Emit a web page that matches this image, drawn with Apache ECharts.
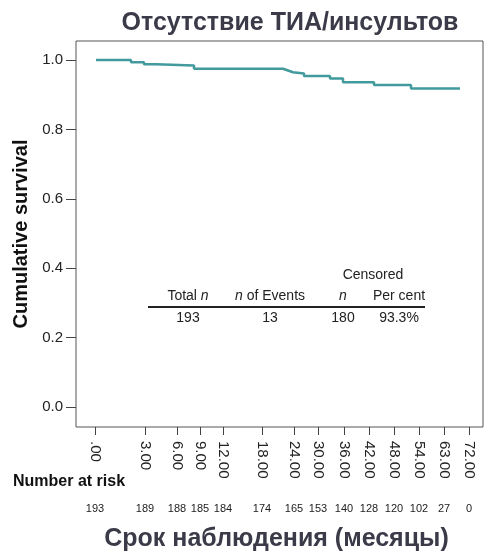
<!DOCTYPE html>
<html>
<head>
<meta charset="utf-8">
<script src="https://cdn.jsdelivr.net/npm/echarts@6/dist/echarts.min.js"></script>
<style>
  html, body { margin: 0; padding: 0; background: #fff; }
  #chart { width: 500px; height: 560px; }
</style>
</head>
<body>
<div id="chart"></div>
<script>
// ось X в исходнике неравномерная: позиции делений заданы в единицах оси
const tickPos = [19, 69, 101, 124, 147, 186, 218, 242, 268, 293, 318, 343, 368, 393]
const tickLabels = ['.00', '3.00', '6.00', '9.00', '12.00', '18.00', '24.00', '30.00', '36.00', '42.00', '48.00', '54.00', '63.00', '72.00']
const atRisk = [193, 189, 188, 185, 184, 174, 165, 153, 140, 128, 120, 102, 27, 0]

// ступени кривой выживаемости (x в тех же единицах оси)
const stepX = [20, 55, 68, 80, 118, 207, 212, 217, 228, 254, 267, 298, 335, 384]
const stepY = [1.0, 0.994, 0.988, 0.984, 0.975, 0.970, 0.965, 0.961, 0.954, 0.947, 0.936, 0.928, 0.918, 0.918]

const yTicks = [0, 0.2, 0.4, 0.6, 0.8, 1.0]

const tableHead = ['Total {i|n}', '{i|n} of Events', '{i|n}', 'Per cent']
const tableRow = ['193', '13', '180', '93.3%']

const textColor = '#222'
const titleColor = '#3a3a48'

let myChart = echarts.init(document.getElementById('chart'))

let colX = [188, 270, 343, 399]
let tableText = []
tableHead.forEach((t, i) => {
  tableText.push({
    type: 'text',
    x: colX[i],
    y: 296,
    style: {
      text: t,
      fill: textColor,
      font: '14px "Liberation Sans", Arial',
      align: 'center',
      verticalAlign: 'middle',
      rich: { i: { fontStyle: 'italic', fontSize: 14, fill: textColor } },
    },
  })
})
tableRow.forEach((t, i) => {
  tableText.push({
    type: 'text',
    x: colX[i],
    y: 318,
    style: {
      text: t,
      fill: textColor,
      font: '14px "Liberation Sans", Arial',
      align: 'center',
      verticalAlign: 'middle',
    },
  })
})

let option = {
  animation: false,
  title: {
    text: 'Отсутствие ТИА/инсультов',
    left: 285,
    top: 6,
    textAlign: 'center',
    textStyle: {
      color: titleColor,
      fontSize: 25,
      fontWeight: 'bold',
      fontFamily: '"Liberation Sans", Arial',
    },
  },
  grid: {
    left: 76,
    right: 17,
    top: 41,
    bottom: 133,
    show: true,
    borderColor: '#555',
    borderWidth: 1,
  },
  xAxis: [
    {
      type: 'value',
      min: 0,
      max: 407,
      name: 'Срок наблюдения (месяцы)',
      nameLocation: 'middle',
      nameGap: 100,
      nameTextStyle: {
        color: titleColor,
        fontSize: 25,
        fontWeight: 'bold',
        fontFamily: '"Liberation Sans", Arial',
        padding: [0, 6, 0, 0],
      },
      axisLine: { show: false, onZero: false },
      splitLine: { show: false },
      axisTick: {
        show: true,
        length: 8,
        customValues: tickPos,
        lineStyle: { color: '#444' },
      },
      axisLabel: {
        customValues: tickPos,
        rotate: -90,
        margin: 14,
        color: textColor,
        fontSize: 15,
        fontFamily: '"Liberation Sans", Arial',
        formatter: (v) => tickLabels[tickPos.indexOf(v)],
      },
    },
    {
      // строка "Number at risk" как вторая ось с теми же делениями
      type: 'value',
      position: 'bottom',
      min: 0,
      max: 407,
      axisLine: { show: false, onZero: false },
      axisTick: { show: false },
      splitLine: { show: false },
      axisLabel: {
        customValues: tickPos,
        margin: 76,
        color: textColor,
        fontSize: 11,
        fontFamily: '"Liberation Sans", Arial',
        formatter: (v) => String(atRisk[tickPos.indexOf(v)]),
      },
    },
  ],
  yAxis: {
    type: 'value',
    min: -0.058,
    max: 1.055,
    name: 'Cumulative survival',
    nameLocation: 'middle',
    nameGap: 39,
    nameTextStyle: {
      color: '#111',
      fontSize: 20,
      fontWeight: 'bold',
      fontFamily: '"Liberation Sans", Arial',
    },
    axisLine: { show: false, onZero: false },
    splitLine: { show: false },
    axisTick: {
      show: true,
      length: 10,
      customValues: yTicks,
      lineStyle: { color: '#444' },
    },
    axisLabel: {
      customValues: yTicks,
      margin: 13,
      color: textColor,
      fontSize: 15,
      fontFamily: '"Liberation Sans", Arial',
      formatter: (v) => v.toFixed(1),
    },
  },
  graphic: [
    {
      type: 'text',
      left: 13,
      top: 474,
      style: {
        text: 'Number at risk',
        fill: '#111',
        font: 'bold 16px "Liberation Sans", Arial',
      },
    },
    {
      type: 'text',
      x: 373,
      y: 275,
      style: {
        text: 'Censored',
        fill: textColor,
        font: '14px "Liberation Sans", Arial',
        align: 'center',
        verticalAlign: 'middle',
      },
    },
    {
      type: 'line',
      shape: { x1: 148, y1: 307, x2: 425, y2: 307 },
      style: { stroke: '#222', lineWidth: 2 },
    },
    ...tableText,
  ],
  series: [
    {
      type: 'line',
      step: 'end',
      symbol: 'none',
      data: stepX.map((x, i) => [x, stepY[i]]),
      lineStyle: { color: '#429a9d', width: 2.5 },
    },
  ],
}

myChart.setOption(option)
</script>
</body>
</html>
